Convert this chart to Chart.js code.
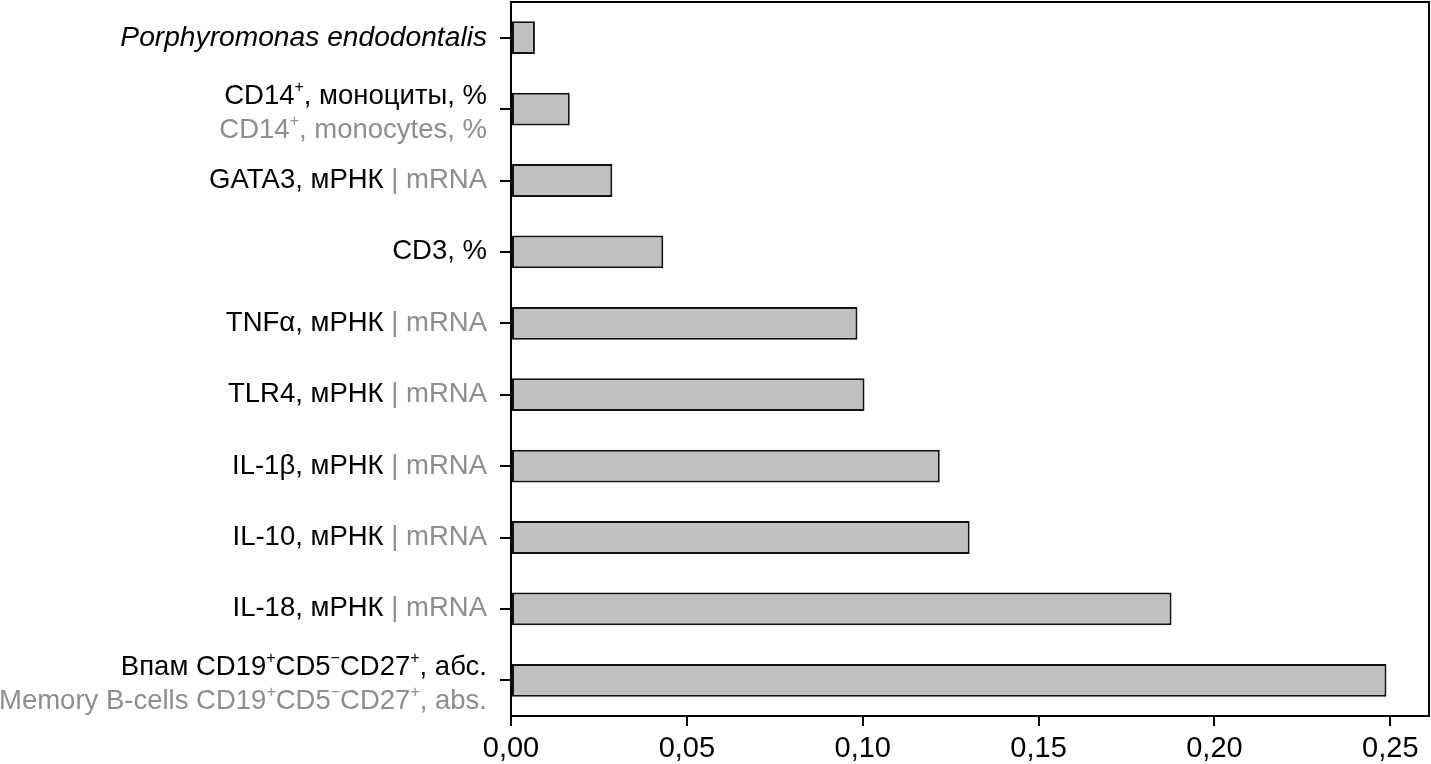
<!DOCTYPE html>
<html>
<head>
<meta charset="utf-8">
<script src="https://cdn.jsdelivr.net/npm/chart.js@4.4.1/dist/chart.umd.min.js"></script>
<style>
  html, body { margin: 0; padding: 0; background: #ffffff; }
  #wrap { width: 1431px; height: 764px; }
</style>
</head>
<body>
<div id="wrap"><canvas id="c" width="1431" height="764"></canvas></div>
<script>
// ---- data ----
const categories = [
  'Porphyromonas endodontalis',
  'CD14+, моноциты, %',
  'GATA3, мРНК',
  'CD3, %',
  'TNFα, мРНК',
  'TLR4, мРНК',
  'IL-1β, мРНК',
  'IL-10, мРНК',
  'IL-18, мРНК',
  'Впам CD19+CD5−CD27+, абс.'
];
const englishLabels = [
  '',
  'CD14+, monocytes, %',
  'mRNA',
  '',
  'mRNA',
  'mRNA',
  'mRNA',
  'mRNA',
  'mRNA',
  'Memory B-cells CD19+CD5−CD27+, abs.'
];
const italicLabels = ['Porphyromonas endodontalis'];
const values = [0.0068, 0.0167, 0.0288, 0.0433, 0.0985, 0.1005, 0.1219, 0.1304, 0.1878, 0.2489];
const xTicks = [0, 0.05, 0.10, 0.15, 0.20, 0.25];
const xMax = 0.261;

// ---- styles ----
const FONT = '"Liberation Sans", Arial, sans-serif';
const BLACK = '#000000';
const GREY = '#8e8e8e';

function splitSup(text) {
  // '+' and '−' are rendered as superscripts
  const runs = [];
  let cur = '';
  for (const ch of text) {
    if (ch === '+' || ch === '−') {
      if (cur) runs.push({ t: cur, sup: false });
      cur = '';
      runs.push({ t: ch, sup: true });
    } else cur += ch;
  }
  if (cur) runs.push({ t: cur, sup: false });
  return runs;
}

function buildLines(i) {
  const ru = categories[i];
  const en = englishLabels[i];
  const italic = italicLabels.includes(ru);
  const l1 = splitSup(ru).map(r => ({ ...r, color: BLACK, italic }));
  if (!en) return [l1];
  if (ru.includes('мРНК')) {
    return [l1.concat([{ t: ' | ', sup: false, color: GREY, italic: false },
                       ...splitSup(en).map(r => ({ ...r, color: GREY, italic: false }))])];
  }
  return [l1, splitSup(en).map(r => ({ ...r, color: GREY, italic: false }))];
}

function fontFor(seg) {
  const size = seg.sup ? 16 : (seg.italic ? 28.2 : 27.5);
  return (seg.italic ? 'italic ' : '') + size + 'px ' + FONT;
}

const labelPlugin = {
  id: 'labels',
  afterDraw(chart) {
    const ctx = chart.ctx;
    const ys = chart.scales.y;
    const area = chart.chartArea;
    const right = area.left - 24;
    ctx.save();
    ctx.textBaseline = 'middle';
    ctx.textAlign = 'left';
    categories.forEach((c, i) => {
      const yc = ys.getPixelForValue(i);
      const lines = buildLines(i);
      const offsets = lines.length === 1 ? [0] : [-13, 21];
      lines.forEach((segs, li) => {
        let w = 0;
        segs.forEach(s => { ctx.font = fontFor(s); w += ctx.measureText(s.t).width; });
        let x = right - w;
        const y = yc + offsets[li];
        segs.forEach(s => {
          ctx.font = fontFor(s);
          ctx.fillStyle = s.color;
          ctx.fillText(s.t, x, s.sup ? y - 9 : y);
          x += ctx.measureText(s.t).width;
        });
      });
    });
    // plot frame
    ctx.strokeStyle = BLACK;
    ctx.lineWidth = 2;
    ctx.strokeRect(area.left, area.top, area.right - area.left, area.bottom - area.top);
    ctx.restore();
  }
};

new Chart(document.getElementById('c'), {
  type: 'bar',
  data: {
    labels: categories,
    datasets: [{
      data: values,
      backgroundColor: '#bfc0c2',
      borderColor: '#111111',
      borderWidth: 2,
      borderSkipped: false,
      barPercentage: 0.46,
      categoryPercentage: 1.0
    }]
  },
  options: {
    indexAxis: 'y',
    responsive: false,
    animation: false,
    devicePixelRatio: 1,
    layout: { padding: { left: 0, right: 2, top: 2, bottom: 0 } },
    plugins: { legend: { display: false }, tooltip: { enabled: false } },
    scales: {
      x: {
        type: 'linear',
        min: 0,
        max: xMax,
        afterBuildTicks(scale) { scale.ticks = xTicks.map(v => ({ value: v })); },
        afterFit(scale) { scale.height = 48; },
        grid: { drawOnChartArea: false, drawTicks: true, tickLength: 10, color: BLACK, lineWidth: 2 },
        border: { display: true, color: BLACK, width: 2 },
        ticks: {
          color: BLACK,
          padding: 6,
          font: { family: FONT, size: 29 },
          maxRotation: 0,
          callback: v => Number(v).toFixed(2).replace('.', ',')
        }
      },
      y: {
        type: 'category',
        afterFit(scale) { scale.width = 511; },
        grid: { drawOnChartArea: false, drawTicks: true, tickLength: 11, offset: false, color: BLACK, lineWidth: 2 },
        border: { display: true, color: BLACK, width: 2 },
        ticks: { display: false }
      }
    }
  },
  plugins: [labelPlugin]
});
</script>
</body>
</html>
